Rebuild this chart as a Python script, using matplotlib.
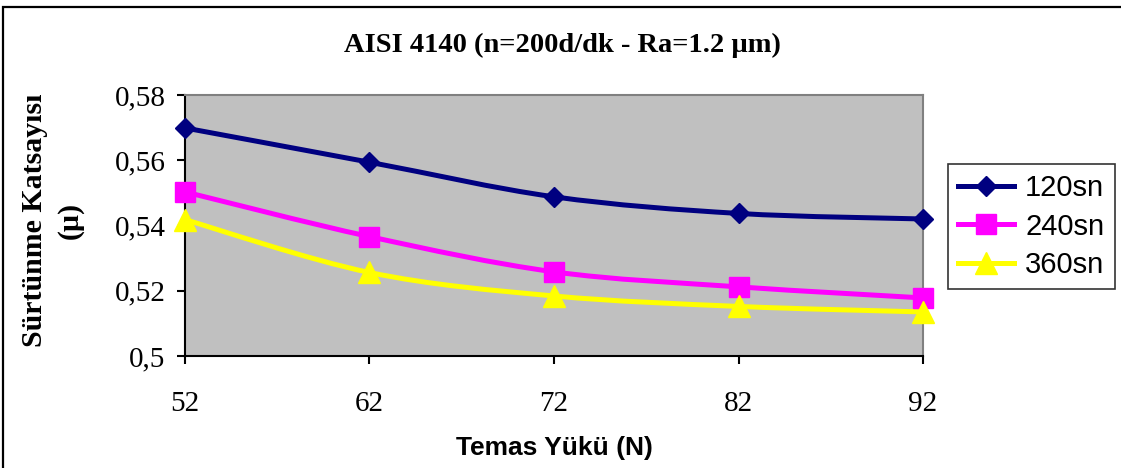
import numpy as np
import matplotlib
matplotlib.use('Agg')
import matplotlib.pyplot as plt
from matplotlib.path import Path
from matplotlib.patches import PathPatch, Rectangle
from matplotlib.lines import Line2D
from matplotlib.ticker import FuncFormatter

# Data
loads = [52, 62, 72, 82, 92]
mu_120 = [0.5699, 0.5594, 0.5488, 0.5437, 0.5420]
mu_240 = [0.5503, 0.5366, 0.5258, 0.5212, 0.5178]
mu_360 = [0.5418, 0.5256, 0.5184, 0.5152, 0.5135]
series_names = ['120sn', '240sn', '360sn']
title = 'AISI 4140 (n=200d/dk - Ra=1.2 \u00b5m)'
ylabel = 'S\u00fcrt\u00fcnme Katsay\u0131s\u0131\n(\u00b5)'
xlabel = 'Temas Y\u00fck\u00fc (N)'

colors = ['#000080', '#FF00FF', '#FFFF00']
markers = ['D', 's', '^']
msizes = [10, 15, 16]


def smooth_path(xs, ys):
    # Excel-like smoothed line through the points (cubic Bezier segments)
    pts = np.column_stack([xs, ys]).astype(float)
    n = len(pts)
    verts = [pts[0]]
    codes = [Path.MOVETO]
    for i in range(n - 1):
        p0 = pts[max(i - 1, 0)]
        p1 = pts[i]
        p2 = pts[i + 1]
        p3 = pts[min(i + 2, n - 1)]
        verts += [p1 + (p2 - p0) / 6, p2 - (p3 - p1) / 6, p2]
        codes += [Path.CURVE4] * 3
    return Path(verts, codes)


fig = plt.figure(figsize=(11.21, 4.68), dpi=100)
ax = fig.add_axes([0.165, 0.2393, 0.6584, 0.5577])
ax.set_facecolor('#C0C0C0')

for ys, c, m, ms in zip([mu_120, mu_240, mu_360], colors, markers, msizes):
    ax.add_patch(PathPatch(smooth_path(loads, ys), fc='none', ec=c, lw=3.6,
                           capstyle='round', joinstyle='round', zorder=2))
    ax.plot(loads, ys, linestyle='none', marker=m, ms=ms, mfc=c, mec=c,
            mew=1, clip_on=False, zorder=3)

ax.set_xlim(52, 92)
ax.set_ylim(0.5, 0.58)
ax.set_xticks(loads)
ax.set_yticks([0.5, 0.52, 0.54, 0.56, 0.58])
ax.yaxis.set_major_formatter(FuncFormatter(
    lambda v, p: ('%g' % round(v, 2)).replace('.', ',')))

for s in ['top', 'right']:
    ax.spines[s].set_color('#808080')
    ax.spines[s].set_linewidth(1.5)
for s in ['left', 'bottom']:
    ax.spines[s].set_color('black')
    ax.spines[s].set_linewidth(1.5)

ax.tick_params(axis='both', direction='out', length=6, width=1.5, color='black')
ax.tick_params(axis='y', pad=8, labelsize=21)
ax.tick_params(axis='x', pad=19, labelsize=21)
for lab in ax.get_xticklabels() + ax.get_yticklabels():
    lab.set_family('Liberation Serif')

# Legend
handles = [Line2D([], [], color=c, lw=3.6, marker=m, ms=ms, mfc=c, mec=c)
           for c, m, ms in zip(colors, markers, msizes)]
leg = fig.legend(handles, series_names, loc='center',
                 bbox_to_anchor=(0.920, 0.516), frameon=True, fancybox=False,
                 prop={'family': 'Liberation Sans', 'size': 21},
                 handlelength=1.9, handletextpad=0.4, labelspacing=0.35,
                 borderpad=0.35, borderaxespad=0)
leg.get_frame().set_edgecolor('black')
leg.get_frame().set_linewidth(1.2)

# Titles
fig.text(0.5015, 0.904, title, ha='center', va='center', fontsize=20.5,
         fontweight='bold', family='Liberation Serif')
fig.text(0.0464, 0.530, ylabel, ha='center', va='center', rotation=90,
         fontsize=21.5, fontweight='bold', family='Liberation Serif',
         linespacing=1.4, multialignment='center')
fig.text(0.495, 0.043, xlabel, ha='center', va='center', fontsize=19,
         fontweight='bold', family='Liberation Sans')

# Outer chart frame (cropped on right and bottom)
fig.patches.append(Rectangle((3 / 1121, -0.05), 1.2, 1 - 7 / 468 + 0.05,
                             transform=fig.transFigure, fill=False,
                             ec='black', lw=1.6))

fig.savefig('out.png', dpi=100)
